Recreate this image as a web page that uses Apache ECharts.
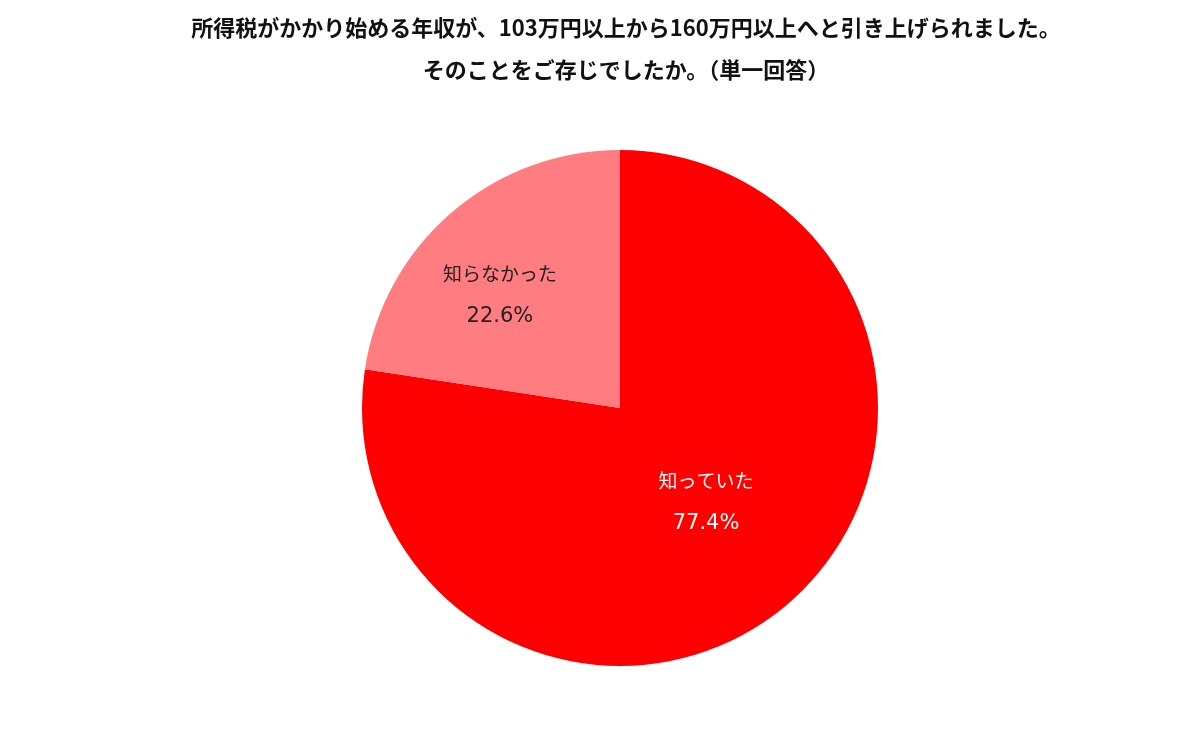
<!DOCTYPE html>
<html><head><meta charset="utf-8">
<script src="https://cdn.jsdelivr.net/npm/echarts@6/dist/echarts.min.js"></script>
<style>html,body{margin:0;padding:0;background:#fff}#c{width:1200px;height:740px}</style>
</head><body><div id="c"></div>
<script>
const categories = ['知っていた', '知らなかった'];
const values = [77.4, 22.6];
const colors = ['#FF0000', '#FF7C80'];
const labelColors = ['#FFFFFF', '#222222'];
const titleLines = ['所得税がかかり始める年収が、103万円以上から160万円以上へと引き上げられました。', 'そのことをご存じでしたか。（単一回答）'];

const chart = echarts.init(document.getElementById('c'));
chart.setOption({
  animation: false,
  title: {
    text: titleLines.join('\n'),
    left: 621, top: 2, textAlign: 'center',
    textStyle: {fontFamily: 'Noto Sans CJK JP', fontWeight: 'bold', fontSize: 22, color: '#111', lineHeight: 42}
  },
  series: [{
    type: 'pie',
    center: [620, 408],
    radius: 258,
    startAngle: 90,
    clockwise: true,
    label: {
      position: 'inside',
      formatter: p => '{n|' + p.name + '}\n{v|' + p.value.toFixed(1) + '%}',
      rich: {
        n: {fontFamily: 'Noto Sans CJK JP', fontSize: 19, height: 43, lineHeight: 43},
        v: {fontFamily: 'DejaVu Sans', fontSize: 21, height: 43, lineHeight: 43}
      }
    },
    labelLayout: p => p.dataIndex === 1 ? {dx: -34, dy: -13} : {dx: 0, dy: -6},
    data: categories.map((n, i) => ({
      name: n, value: values[i],
      itemStyle: {color: colors[i]},
      label: {color: labelColors[i], rich: {n: {color: labelColors[i]}, v: {color: labelColors[i]}}}
    }))
  }]
});
</script></body></html>
